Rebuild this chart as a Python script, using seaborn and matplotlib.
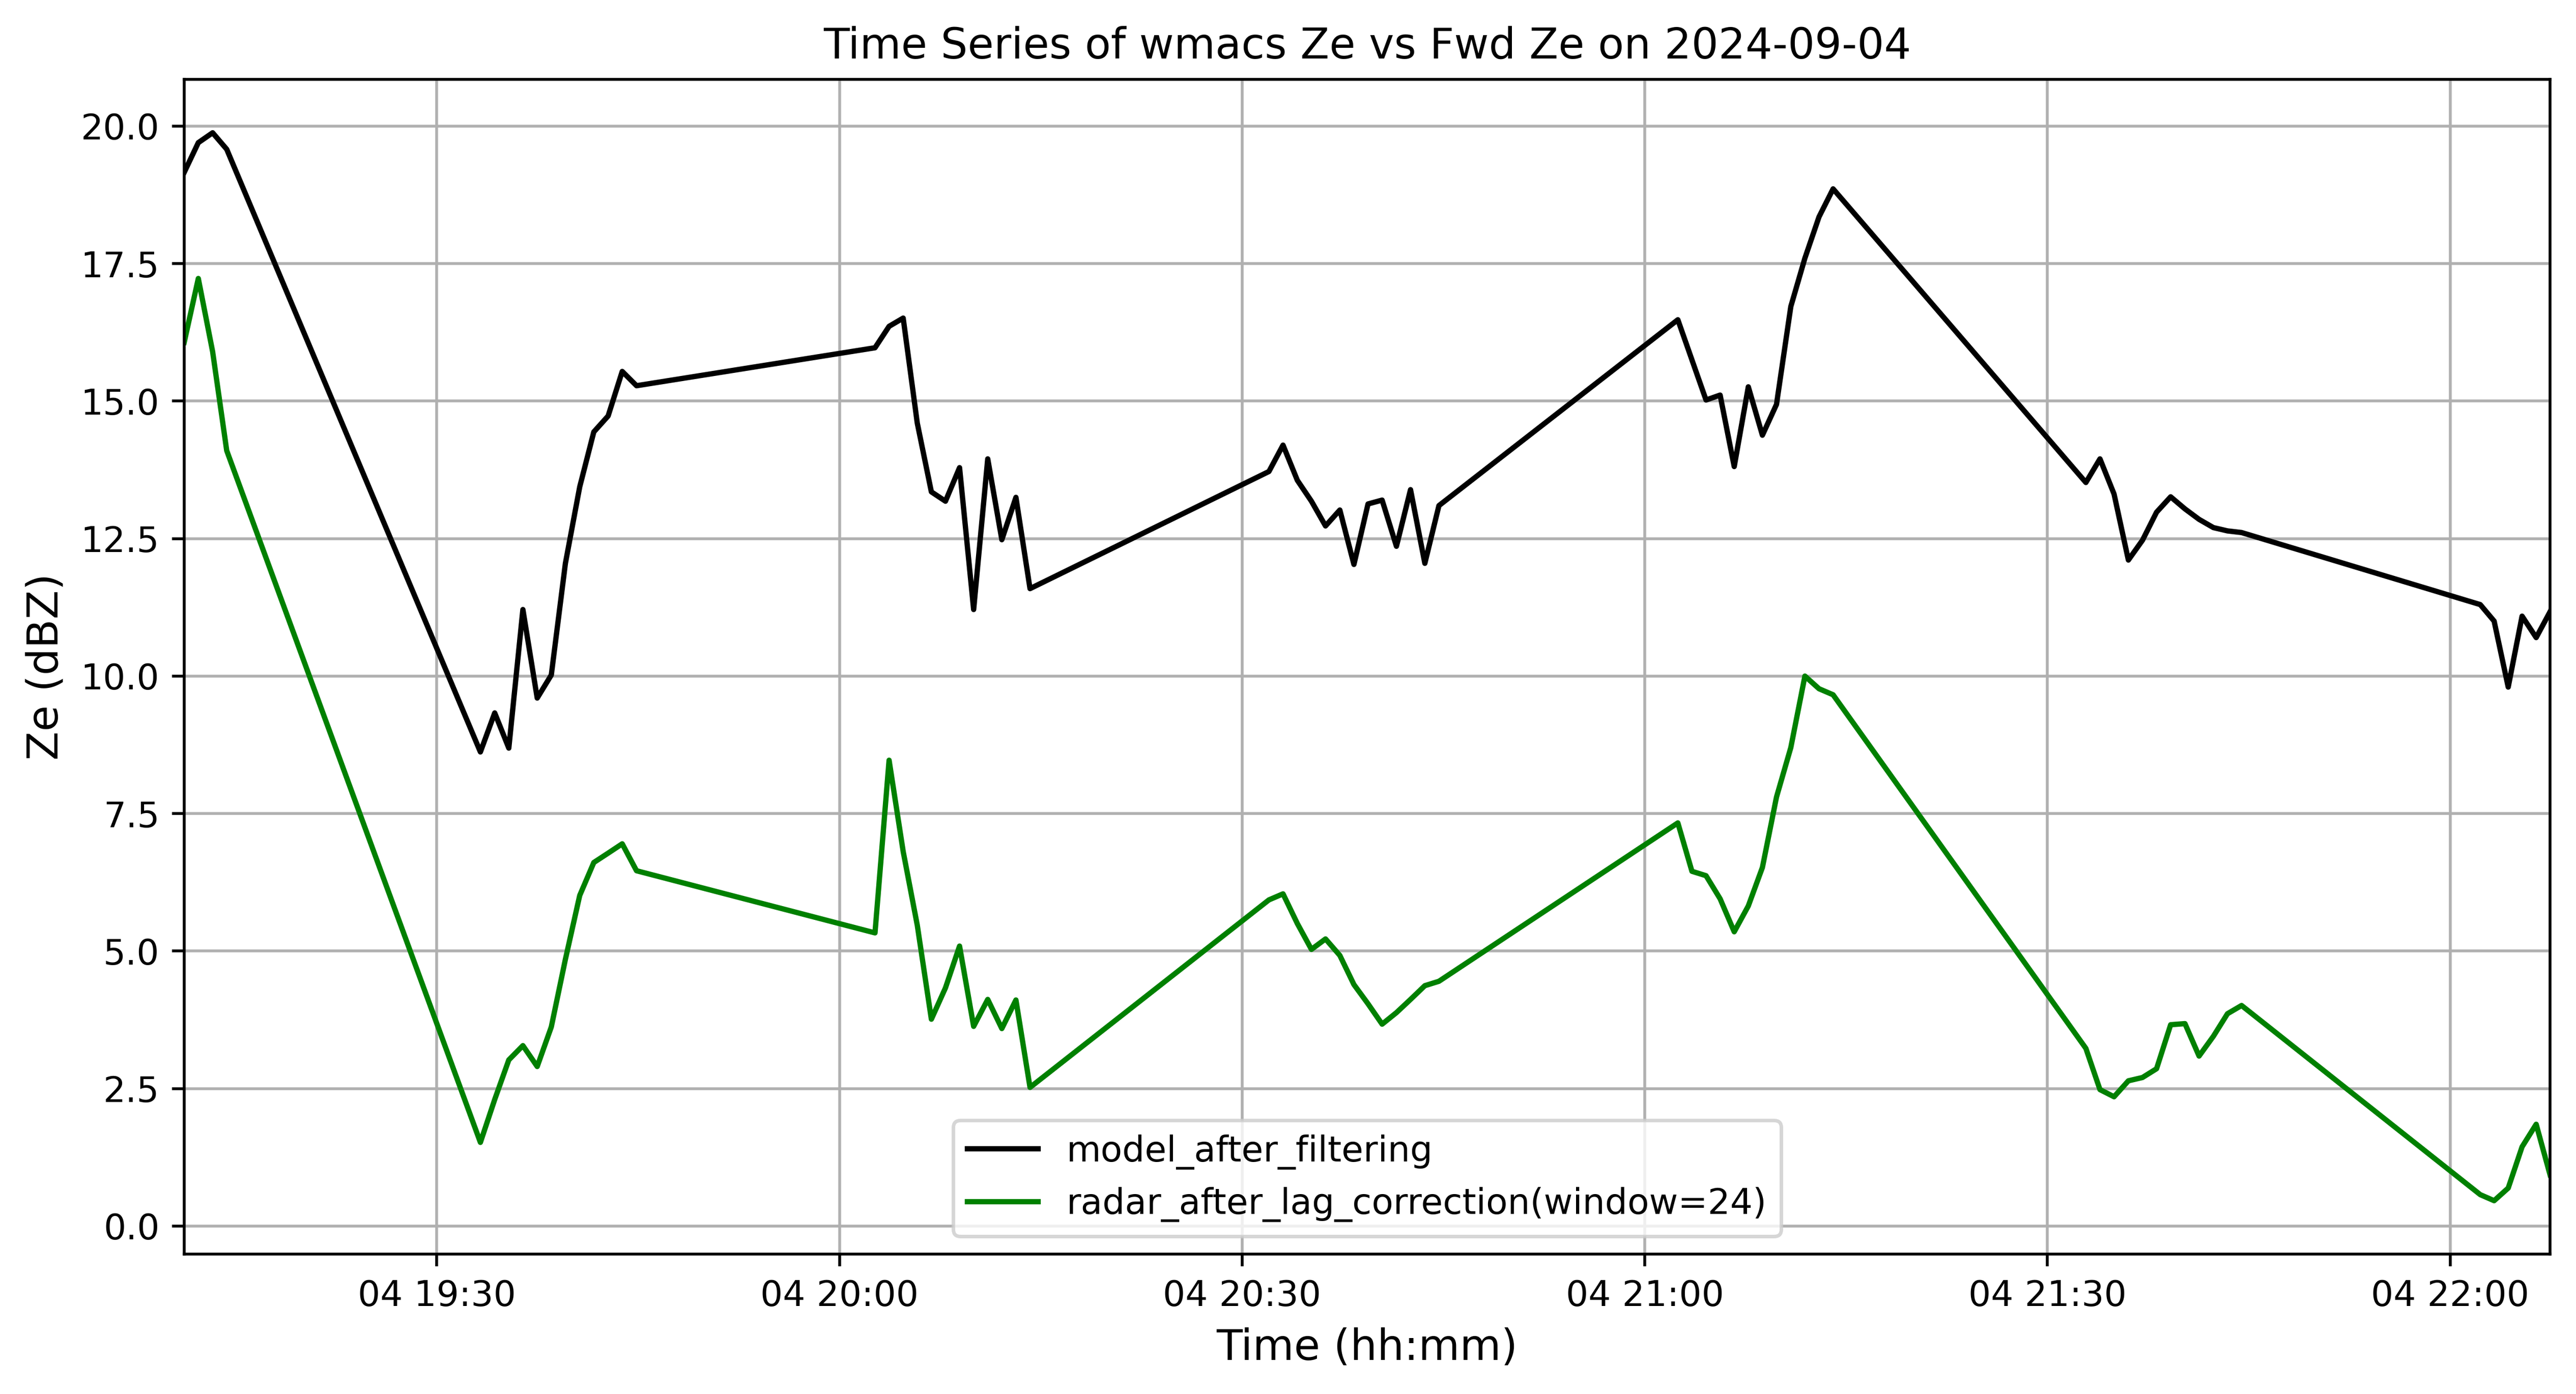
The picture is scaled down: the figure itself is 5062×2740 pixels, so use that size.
import matplotlib
matplotlib.use("Agg")
import matplotlib.pyplot as plt
import matplotlib.dates as mdates
import pandas as pd
import seaborn as sns

date = "2024-09-04"

times = [
    # block 1
    "19:11:11", "19:12:14", "19:13:18", "19:14:21",
    # block 2
    "19:33:15", "19:34:19", "19:35:22", "19:36:25", "19:37:29", "19:38:32",
    "19:39:35", "19:40:39", "19:41:42", "19:42:46", "19:43:49", "19:44:53",
    # block 3
    "20:02:39", "20:03:42", "20:04:45", "20:05:48", "20:06:51", "20:07:54",
    "20:08:57", "20:10:00", "20:11:03", "20:12:06", "20:13:09", "20:14:12",
    # block 4
    "20:32:00", "20:33:03", "20:34:07", "20:35:10", "20:36:13", "20:37:17",
    "20:38:20", "20:39:23", "20:40:26", "20:41:30", "20:42:33", "20:43:37",
    "20:44:40",
    # block 5
    "21:02:28", "21:03:31", "21:04:34", "21:05:37", "21:06:40", "21:07:43",
    "21:08:46", "21:09:49", "21:10:53", "21:11:56", "21:12:59", "21:14:02",
    # block 6
    "21:32:52", "21:33:55", "21:34:58", "21:36:02", "21:37:05", "21:38:08",
    "21:39:11", "21:40:15", "21:41:18", "21:42:22", "21:43:25", "21:44:28",
    # block 7
    "22:02:15", "22:03:17", "22:04:20", "22:05:22", "22:06:25", "22:07:27",
]

model_after_filtering = [
    19.16, 19.70, 19.88, 19.58,
    8.62, 9.33, 8.69, 11.21, 9.60, 10.02, 12.05, 13.44, 14.44, 14.73, 15.54, 15.28,
    15.97, 16.36, 16.51, 14.60, 13.35, 13.18, 13.79, 11.21, 13.95, 12.48, 13.25, 11.59,
    13.72, 14.20, 13.56, 13.18, 12.73, 13.02, 12.03, 13.13, 13.20, 12.36, 13.39, 12.05, 13.10,
    16.48, 15.75, 15.02, 15.11, 13.81, 15.26, 14.38, 14.94, 16.72, 17.60, 18.35, 18.86,
    13.52, 13.95, 13.31, 12.11, 12.47, 12.98, 13.26, 13.04, 12.85, 12.70, 12.64, 12.61,
    11.30, 11.00, 9.80, 11.09, 10.70, 11.17,
]

radar_after_lag_correction = [
    16.07, 17.23, 15.90, 14.10,
    1.52, 2.30, 3.02, 3.28, 2.90, 3.62, 4.85, 6.01, 6.61, 6.78, 6.95, 6.46,
    5.33, 8.47, 6.81, 5.47, 3.76, 4.33, 5.09, 3.63, 4.12, 3.59, 4.11, 2.52,
    5.93, 6.04, 5.50, 5.03, 5.22, 4.92, 4.39, 4.04, 3.67, 3.88, 4.12, 4.37, 4.45,
    7.33, 6.45, 6.37, 5.95, 5.35, 5.82, 6.52, 7.80, 8.70, 10.00, 9.77, 9.66,
    3.23, 2.48, 2.35, 2.64, 2.70, 2.86, 3.66, 3.68, 3.09, 3.45, 3.86, 4.01,
    0.57, 0.46, 0.69, 1.44, 1.85, 0.93,
]

labels = ["model_after_filtering", "radar_after_lag_correction(window=24)"]
colors = ["black", "green"]

df = pd.DataFrame({
    "time": pd.to_datetime([f"{date} {t}" for t in times]),
    "model": model_after_filtering,
    "radar": radar_after_lag_correction,
})

plt.rcdefaults()
plt.rcParams["font.family"] = ["DejaVu Sans"]

W, H, DPI = 5062, 2740, 500
fig = plt.figure(figsize=(W / DPI, H / DPI), dpi=DPI)
ax = fig.add_axes([362 / W, (H - 2465) / H, 4649 / W, 2309 / H])

sns.lineplot(data=df, x="time", y="model", ax=ax, color=colors[0],
             label=labels[0], linewidth=1.5)
sns.lineplot(data=df, x="time", y="radar", ax=ax, color=colors[1],
             label=labels[1], linewidth=1.5)

ax.set_xlim(df["time"].iloc[0], df["time"].iloc[-1])
ax.xaxis.set_major_locator(mdates.MinuteLocator(byminute=[0, 30]))
ax.xaxis.set_major_formatter(mdates.DateFormatter("%d %H:%M"))
ax.grid(True)
ax.set_title(f"Time Series of wmacs Ze vs Fwd Ze on {date}", fontsize=12)
ax.set_xlabel("Time (hh:mm)", fontsize=12)
ax.set_ylabel("Ze (dBZ)", fontsize=12)
ax.tick_params(labelsize=10)
ax.legend(loc="lower center", fontsize=10)

fig.savefig("out.png", dpi=DPI)
